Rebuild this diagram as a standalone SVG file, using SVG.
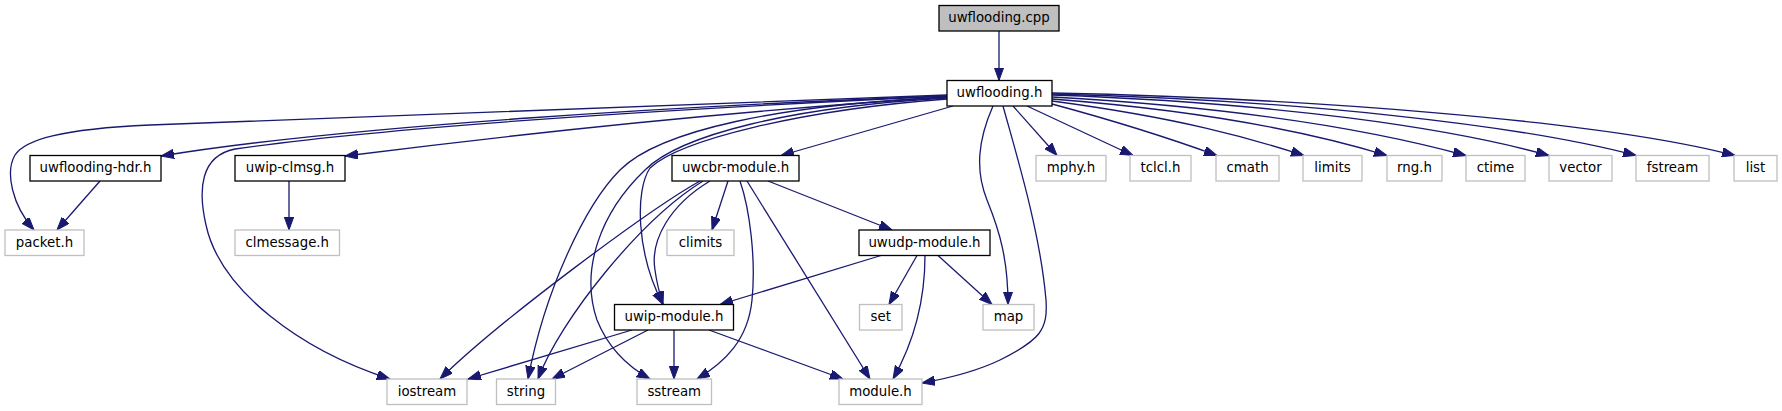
<svg xmlns="http://www.w3.org/2000/svg" width="1782" height="411" viewBox="0 0 1782 411">
<style>
.n rect{fill:#fff;stroke:#000;stroke-width:1.3}
.g rect{fill:#fff;stroke:#bfbfbf;stroke-width:1.3}
.r rect{fill:#bfbfbf;stroke:#000;stroke-width:1.3}
text{font-family:"DejaVu Sans",sans-serif;font-size:13.33px;text-anchor:middle;fill:#000}
#edges path{fill:none;stroke:#191970;stroke-width:1.3;marker-end:url(#ah)}
</style>
<defs>
<marker id="ah" markerUnits="userSpaceOnUse" markerWidth="14" markerHeight="10" refX="13" refY="4.7" orient="auto">
<path d="M0,0 L13,4.7 L0,9.4 z" fill="#191970" stroke="#191970" stroke-width="1"/>
</marker>
</defs>
<rect width="1782" height="411" fill="#fff"/>
<g id="edges">
<path d="M999,31 L999,80.5"/>
<path d="M947,96 C700,105 350,125 161,156"/>
<path d="M947,95 L150,125 C60,129 25,140 15,155 C5,172 12,205 34,230"/>
<path d="M947,97 C750,110 550,130 345,156"/>
<path d="M947,96 C650,110 380,128 235,149 C200,156 198,190 206,225 C220,290 300,350 390,379"/>
<path d="M953,106 L781,155.5"/>
<path d="M947,97 C780,105 660,130 620,170 C585,205 545,290 528,379"/>
<path d="M947,98 C790,107 680,135 645,170 C600,213 580,270 597,320 C607,345 625,365 650,379"/>
<path d="M947,99 C800,110 680,140 650,168 C635,190 636,253 663,304.5"/>
<path d="M993,106 C978,140 975,170 987,200 C1000,232 1008,260 1008,304.5"/>
<path d="M1003,106 C1015,150 1040,230 1046,300 C1048,330 1040,340 1000,360 C975,372 950,378 922,383"/>
<path d="M1013,106 L1057,155.5"/>
<path d="M1027,106 L1133,155.5"/>
<path d="M1052,104 C1130,125 1180,142 1217,155.5"/>
<path d="M1052,101 C1180,118 1250,138 1304,155.5"/>
<path d="M1052,99 C1220,112 1320,135 1387,155.5"/>
<path d="M1052,97 C1250,108 1380,132 1466,155.5"/>
<path d="M1052,95 C1280,103 1450,128 1549,155.5"/>
<path d="M1052,94 C1300,100 1520,125 1636,155.5"/>
<path d="M1052,93 C1300,98 1600,120 1735,155.5"/>
<path d="M100,181 L57,230"/>
<path d="M289,181 L289,230"/>
<path d="M728,181 L712,230"/>
<path d="M768,181 L892,230"/>
<path d="M710,181 C670,205 650,240 655,270 C657,285 660,295 663,304.5"/>
<path d="M700,181 C650,209 500,320 440,379"/>
<path d="M703,181 C640,220 560,320 538,379"/>
<path d="M740,181 C750,210 756,260 752,300 C748,340 725,362 697,379"/>
<path d="M747,181 L870,379"/>
<path d="M881,255.5 L720,304.5"/>
<path d="M917,255.5 L889,304.5"/>
<path d="M925,255.5 C925,300 915,340 893,379"/>
<path d="M938,255.5 L992,304.5"/>
<path d="M632,330 L468,379"/>
<path d="M648,330 L552,379"/>
<path d="M674,330 L674,379"/>
<path d="M709,330 L843,379"/>
</g>
<g id="uwflooding_cpp" class="r"><rect x="939" y="5.5" width="120" height="25.5"/><text x="999" y="22">uwflooding.cpp</text></g>
<g id="uwflooding_h" class="n"><rect x="947" y="80.5" width="105" height="25.5"/><text x="999.5" y="97">uwflooding.h</text></g>
<g id="uwflooding_hdr_h" class="n"><rect x="30" y="155.5" width="131" height="25.5"/><text x="95.5" y="172">uwflooding-hdr.h</text></g>
<g id="uwip_clmsg_h" class="n"><rect x="235" y="155.5" width="110" height="25.5"/><text x="290" y="172">uwip-clmsg.h</text></g>
<g id="uwcbr_module_h" class="n"><rect x="672" y="155.5" width="127" height="25.5"/><text x="735.5" y="172">uwcbr-module.h</text></g>
<g id="mphy_h" class="g"><rect x="1036" y="155.5" width="70" height="25.5"/><text x="1071" y="172">mphy.h</text></g>
<g id="tclcl_h" class="g"><rect x="1130" y="155.5" width="61" height="25.5"/><text x="1160.5" y="172">tclcl.h</text></g>
<g id="cmath" class="g"><rect x="1216" y="155.5" width="63" height="25.5"/><text x="1247.5" y="172">cmath</text></g>
<g id="limits" class="g"><rect x="1303" y="155.5" width="59" height="25.5"/><text x="1332.5" y="172">limits</text></g>
<g id="rng_h" class="g"><rect x="1387" y="155.5" width="55" height="25.5"/><text x="1414.5" y="172">rng.h</text></g>
<g id="ctime" class="g"><rect x="1466" y="155.5" width="59" height="25.5"/><text x="1495.5" y="172">ctime</text></g>
<g id="vector" class="g"><rect x="1549" y="155.5" width="63" height="25.5"/><text x="1580.5" y="172">vector</text></g>
<g id="fstream" class="g"><rect x="1636" y="155.5" width="73" height="25.5"/><text x="1672.5" y="172">fstream</text></g>
<g id="list" class="g"><rect x="1734" y="155.5" width="43" height="25.5"/><text x="1755.5" y="172">list</text></g>
<g id="packet_h" class="g"><rect x="5" y="230" width="79" height="25.5"/><text x="44.5" y="246.5">packet.h</text></g>
<g id="clmessage_h" class="g"><rect x="235" y="230" width="104.5" height="25.5"/><text x="287.25" y="246.5">clmessage.h</text></g>
<g id="climits" class="g"><rect x="667" y="230" width="67" height="25.5"/><text x="700.5" y="246.5">climits</text></g>
<g id="uwudp_module_h" class="n"><rect x="859" y="230" width="131" height="25.5"/><text x="924.5" y="246.5">uwudp-module.h</text></g>
<g id="uwip_module_h" class="n"><rect x="614.5" y="304.5" width="119" height="25.5"/><text x="674" y="321">uwip-module.h</text></g>
<g id="set" class="g"><rect x="859.5" y="304.5" width="42.5" height="25.5"/><text x="880.75" y="321">set</text></g>
<g id="map" class="g"><rect x="983" y="304.5" width="51" height="25.5"/><text x="1008.5" y="321">map</text></g>
<g id="iostream" class="g"><rect x="387" y="379" width="80" height="25.5"/><text x="427" y="395.5">iostream</text></g>
<g id="string" class="g"><rect x="496.5" y="379" width="59" height="25.5"/><text x="526" y="395.5">string</text></g>
<g id="sstream" class="g"><rect x="637" y="379" width="74.5" height="25.5"/><text x="674.25" y="395.5">sstream</text></g>
<g id="module_h" class="g"><rect x="839" y="379" width="83" height="25.5"/><text x="880.5" y="395.5">module.h</text></g>
</svg>
